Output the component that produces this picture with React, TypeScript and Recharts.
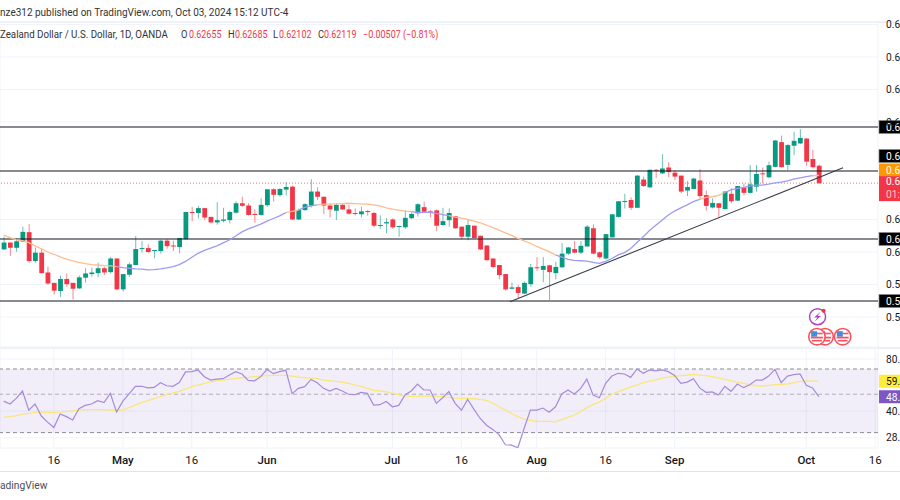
import React from "react";
import { ComposedChart, Bar, Line, XAxis, YAxis, CartesianGrid, ReferenceLine, ReferenceArea, ReferenceDot } from "recharts";

const opens = [.6008,.6029,.6013,.6032,.6061,.5972,.5998,.5937,.5905,.5880,.5917,.5905,.5888,.5921,.5932,.5935,.5950,.5938,.5980,.5885,.5930,.5960,.6010,.6012,.6005,.6003,.6035,.6020,.6015,.6039,.6123,.6120,.6135,.6108,.6091,.6096,.6098,.6121,.6150,.6143,.6117,.6114,.6144,.6193,.6175,.6192,.6201,.6100,
.6129,.6143,.6186,.6170,.6143,.6127,.6145,.6131,.6120,.6116,.6126,.6120,.6081,.6088,.6100,.6077,.6076,.6104,.6119,.6138,.6125,.6128,.6083,.6098,.6110,.6078,.6047,.6081,.6050,.6020,.5980,.5960,.5932,.5887,.5892,.5872,.5901,.5953,.5945,.5959,.5935,.5953,.5995,.6009,.5998,.6017,.6073,.5999,
.5980,.6045,.6108,.6155,.6160,.6136,.6223,.6199,.6253,.6242,.6260,.6244,.6235,.6189,.6194,.6220,.6175,.6137,.6150,.6132,.6179,.6158,.6199,.6182,.6201,.6242,.6230,.6262,.6338,.6268,.6327,.6334,.6349,.6286,.62655];
const highs = [.6047,.6029,.6042,.6078,.6086,.6014,.6011,.5955,.5905,.5927,.5934,.5905,.5928,.5950,.5952,.5967,.5955,.5985,.5980,.5932,.5968,.6049,.6034,.6024,.6006,.6037,.6039,.6035,.6043,.6123,.6139,.6142,.6136,.6108,.6153,.6136,.6127,.6156,.6170,.6150,.6131,.6165,.6193,.6196,.6196,.6215,.6204,.6134,
.6150,.6224,.6199,.6170,.6150,.6150,.6148,.6145,.6134,.6139,.6129,.6124,.6113,.6104,.6104,.6081,.6129,.6122,.6150,.6155,.6129,.6131,.6136,.6134,.6110,.6078,.6100,.6081,.6050,.6021,.5980,.5960,.5932,.5906,.5899,.5909,.5963,.5984,.5984,.5960,.5970,.6027,.6016,.6034,.6034,.6083,.6085,.6001,
.6055,.6116,.6157,.6179,.6168,.6237,.6232,.6253,.6255,.6301,.6276,.6252,.6235,.6218,.6228,.6255,.6189,.6165,.6150,.6186,.6196,.6203,.6211,.6268,.6268,.6260,.6278,.6345,.6358,.6332,.6370,.6378,.6350,.6314,.62685];
const lows = [.6006,.5988,.6001,.6031,.5967,.5967,.5934,.5899,.5869,.5862,.5893,.5854,.5887,.5906,.5924,.5922,.5929,.5934,.5883,.5878,.5924,.5960,.5998,.5998,.5981,.5995,.6010,.6003,.5996,.6039,.6095,.6103,.6098,.6088,.6084,.6091,.6088,.6118,.6139,.6112,.6090,.6112,.6139,.6155,.6170,.6174,.6098,.6098,
.6127,.6137,.6160,.6117,.6106,.6098,.6129,.6114,.6112,.6106,.6112,.6076,.6071,.6058,.6071,.6047,.6071,.6101,.6109,.6122,.6107,.6065,.6080,.6078,.6072,.6039,.6036,.6042,.6006,.5972,.5950,.5916,.5881,.5885,.5857,.5871,.5893,.5942,.5907,.5852,.5916,.5951,.5991,.5996,.5994,.6016,.5993,.5980,
.5977,.6045,.6106,.6134,.6129,.6136,.6200,.6197,.6227,.6240,.6230,.6221,.6180,.6172,.6193,.6160,.6127,.6134,.6106,.6131,.6150,.6157,.6175,.6180,.6186,.6211,.6227,.6260,.6260,.6252,.6298,.6332,.6265,.6257,.62102];
const closes = [.6029,.6013,.6033,.6062,.5972,.5998,.5935,.5903,.5881,.5917,.5901,.5887,.5922,.5934,.5937,.5950,.5937,.5980,.5885,.5932,.5962,.6009,.6012,.6000,.6006,.6035,.6018,.6018,.6043,.6123,.6121,.6135,.6106,.6091,.6098,.6100,.6123,.6150,.6142,.6114,.6115,.6145,.6193,.6176,.6194,.6200,.6100,.6129,
.6147,.6186,.6170,.6143,.6131,.6145,.6131,.6118,.6118,.6125,.6123,.6081,.6083,.6092,.6076,.6080,.6105,.6117,.6147,.6124,.6122,.6081,.6095,.6120,.6073,.6047,.6083,.6043,.6008,.5975,.5954,.5929,.5885,.5891,.5874,.5905,.5953,.5950,.5957,.5938,.5954,.5995,.6014,.5998,.6019,.6078,.5995,.5984,
.6055,.6116,.6156,.6157,.6136,.6235,.6203,.6253,.6251,.6257,.6246,.6232,.6186,.6200,.6226,.6172,.6142,.6151,.6136,.6186,.6156,.6203,.6182,.6208,.6240,.6240,.6267,.6343,.6261,.6329,.6342,.6351,.6278,.6261,.62119];
const priceMa = [.6052,.6044,.6037,.6035,.6029,.6019,.6010,.6000,.5993,.5985,.5978,.5973,.5968,.5964,.5961,.5960,.5958,.5957,.5955,.5952,.5950,.5948,.5947,.5945,.5946,.5948,.5951,.5955,.5961,.5971,.5984,.5996,.6005,.6012,.6019,.6028,.6037,.6049,.6062,.6071,.6078,.6086,.6095,.6103,.6111,.6121,.6125,.6129,
.6137,.6142,.6145,.6147,.6147,.6148,.6149,.6150,.6149,.6148,.6147,.6145,.6142,.6136,.6132,.6129,.6126,.6124,.6122,.6122,.6122,.6119,.6115,.6112,.6107,.6104,.6100,.6095,.6090,.6083,.6075,.6067,.6059,.6051,.6042,.6034,.6027,.6017,.6009,.6001,.5991,.5984,.5977,.5974,.5973,.5972,.5968,.5965,
.5971,.5980,.5991,.5998,.6011,.6029,.6047,.6066,.6082,.6098,.6114,.6126,.6136,.6145,.6155,.6162,.6168,.6170,.6174,.6183,.6191,.6196,.6198,.6203,.6206,.6206,.6209,.6213,.6215,.6219,.6224,.6228,.6232,.6235,.6236];
const maOrangeRuns = [[0,18],[45,47],[50,65],[71,88],[111,115],[129,130]];
const rsi = [45.6,43.9,47.3,52.2,40.4,43.9,37.4,34.5,32.1,38.4,37.1,35.5,41.3,43.1,43.9,45.9,44.7,50.6,39.4,45.6,50.2,55.6,55.6,54.4,54.8,58.3,56.0,55.6,58.5,67.3,67.6,69.1,63.2,60.4,61.2,61.5,64.6,67.6,65.5,60.1,59.8,63.2,69.7,65.8,67.6,68.8,50.4,54.1,
55.3,60.9,58.3,54.1,52.2,54.1,52.2,50.0,49.7,51.3,50.6,43.3,43.5,45.4,42.3,43.1,49.5,52.2,57.3,52.9,52.9,44.3,47.7,51.8,44.3,40.4,46.7,40.9,36.2,33.1,31.3,29.2,25.5,25.4,24.5,31.7,40.5,40.5,41.6,39.3,42.3,50.2,52.9,50.2,53.9,61.2,49.5,47.7,
57.8,63.7,66.1,65.5,62.6,70.0,66.1,69.1,68.2,69.1,67.6,64.3,57.8,58.8,61.5,54.4,51.3,51.6,49.5,55.6,52.0,57.3,54.6,56.8,60.4,60.4,63.7,69.7,58.3,63.7,64.9,65.5,56.3,54.4,48.4];
const rsiMa = [36.7,37.1,37.6,38.4,38.7,39.4,39.4,39.3,39.3,39.4,39.8,40.1,40.5,40.7,40.7,40.7,40.7,40.5,40.4,40.5,41.8,43.3,44.7,45.9,47.1,48.6,49.7,50.9,52.0,53.6,55.3,56.5,57.8,59.0,59.8,60.4,60.9,61.7,62.3,62.6,63.2,63.7,64.0,64.3,64.3,64.3,63.7,62.9,
62.3,62.0,61.5,60.4,59.8,59.3,58.8,57.8,56.5,55.6,54.1,52.7,52.2,51.6,50.6,49.7,48.8,48.6,48.6,48.8,48.8,48.8,48.4,47.9,47.5,47.3,47.3,47.1,46.7,46.1,44.5,42.3,40.5,38.7,37.1,35.9,35.3,34.8,34.8,34.8,34.6,35.7,36.7,37.9,39.6,41.8,43.5,45.0,
47.3,50.0,51.8,53.4,55.0,56.5,58.3,59.5,60.6,62.0,62.9,63.4,64.0,64.6,65.2,64.6,64.0,63.2,62.0,60.9,59.8,58.8,57.8,56.8,56.0,55.8,56.3,56.8,57.0,57.3,58.3,59.3,59.8,59.5,59.5];

const timeTicks = [8,19,30,42,62,73,85,96,107,128,139];
const timeLabels = ["16","May","16","Jun","Jul","16","Aug","16","Sep","Oct","16"];
const priceTicks = [.67,.66,.65,.64,.61,.60,.59,.58];
const rsiTicks = [28,40,80];
const levels = [.63846,.62492,.604,.58492];
const lastClose = .62119;
const trendStart = {x:80.75,y:.58471};
const trendEnd = {x:133.86,y:.62594};

const rows = closes.map((close,i)=>{
  const orange = maOrangeRuns.some(([a,b])=>i>=a&&i<=b);
  const inner = maOrangeRuns.some(([a,b])=>i>a&&i<b);
  return {i,open:opens[i],high:highs[i],low:lows[i],close,
    maOrange:orange?priceMa[i]:null,maBlue:inner?null:priceMa[i],rsi:rsi[i],rsiMa:rsiMa[i]};
});

const UP="#089981", DOWN="#f23645", FONT="Roboto,sans-serif", INK="#131722";
const X_DOMAIN:[number,number]=[-0.59,139.44];

function Candle(p:any){
  const {x,y,width,height,payload:d}=p;
  const k=height/(d.high-d.low||1);
  const top=y+(d.high-Math.max(d.open,d.close))*k;
  const bh=Math.max(1,Math.abs(d.open-d.close)*k);
  const col=d.close>=d.open?UP:DOWN;
  const cx=x+width/2;
  return <g>
    <line x1={cx} x2={cx} y1={y} y2={y+height} stroke={col} strokeWidth={1} strokeOpacity={0.6}/>
    <rect x={cx-2.4} y={top} width={4.8} height={bh} fill={col}/>
  </g>;
}
function Tag({viewBox,fill,text,sub,color="#fff",dy=0,h=13,border}:any){
  const yc=viewBox.y+dy;
  return <g>
    <rect x={879} y={yc-h/2} width={22} height={h} fill={fill} stroke={border||"none"} strokeWidth={border?0.7:0}/>
    <text x={886} y={sub?yc-4:yc+4} fontSize={10.2} fontFamily={FONT} fill={color}>{text}</text>
    {sub?<text x={886} y={yc+9} fontSize={10.2} fontFamily={FONT} fill="#ffc4ca">{sub}</text>:null}
  </g>;
}
function TimeTick({x,y,payload}:any){
  const label=timeLabels[timeTicks.indexOf(payload.value)];
  return <text x={x} y={y+8} textAnchor="middle" fontSize={11.5} fontFamily={FONT} fontWeight={label==="16"?400:500} fill={INK}>{label}</text>;
}
function Bolt({cx,cy}:any){
  return <g>
    <circle cx={cx} cy={cy} r={8} fill="#fff" stroke="#ab47bc" strokeWidth={1.5}/>
    <path d={`M${cx+3} ${cy-5}L${cx-3.5} ${cy+0.8}H${cx}L${cx-3} ${cy+5}L${cx+3.5} ${cy-0.8}H${cx}Z`} fill="#ab47bc"/>
    <circle cx={cx+6} cy={cy-6} r={2} fill="#f23645"/>
  </g>;
}
function Flag({cx,cy}:any){
  return <g>
    <circle cx={cx} cy={cy} r={8.2} fill="#fff" stroke="#f7525f" strokeWidth={1.6}/>
    <rect x={cx-5.8} y={cy-5.5} width={6} height={5.5} fill="#3f8fe0"/>
    <rect x={cx-6} y={cy} width={12} height={1.8} fill="#f7525f"/>
    <rect x={cx-5} y={cy+3.2} width={10} height={1.6} fill="#f7525f"/>
    <rect x={cx} y={cy-4} width={5.8} height={1.6} fill="#f7525f"/>
  </g>;
}
const absText=(left:number,top:number,color:string,sx:number):React.CSSProperties=>({position:"absolute",left,top,color,fontSize:11,lineHeight:"14px",fontFamily:FONT,whiteSpace:"nowrap",transform:`scaleX(${sx})`,transformOrigin:"left center"});

export default function App(){
  const gridCol="#f0f3fa";
  return <div style={{position:"absolute",left:0,top:0,width:900,height:500,overflow:"hidden",background:"#fff"}}>
    <div style={{position:"absolute",left:0,top:21,width:900,height:2,background:"#f0f0f8"}}/>
    <div style={{position:"absolute",left:0,top:347,width:900,height:2,background:"#eceef3"}}/>
    <div style={{position:"absolute",left:0,top:471,width:900,height:1,background:"#e0e3eb"}}/>
    <div style={{position:"absolute",left:0,top:0}}>
      <ComposedChart width={900} height={348} data={rows} margin={{top:22,right:0,bottom:1,left:0}}>
        <CartesianGrid stroke={gridCol} strokeWidth={1}/>
        <XAxis dataKey="i" type="number" domain={X_DOMAIN} ticks={timeTicks} interval={0} allowDataOverflow height={0} tick={false} axisLine={false} tickLine={false}/>
        <YAxis orientation="right" width={22} type="number" domain={[.570769,.670769]} ticks={priceTicks} interval={0} allowDataOverflow axisLine={false} tickLine={false} tickMargin={2} tickFormatter={(v:number)=>v.toFixed(5)} tick={{fontSize:10.2,fontFamily:FONT,fill:INK,textAnchor:"start"}}/>
        <ReferenceLine y={lastClose} stroke={DOWN} strokeDasharray="1 2" strokeWidth={1} strokeOpacity={0.7}/>
        {levels.map((v)=><ReferenceLine key={v} y={v} stroke="#131722" strokeWidth={1.2}/>)}
        <Bar dataKey={(d:any)=>[d.low,d.high]} barSize={5} shape={Candle} isAnimationActive={false}/>
        <Line dataKey="maBlue" stroke="#9d9af5" strokeWidth={1.3} dot={false} connectNulls={false} isAnimationActive={false}/>
        <Line dataKey="maOrange" stroke="#ffbd8e" strokeWidth={1.3} dot={false} connectNulls={false} isAnimationActive={false}/>
        <ReferenceLine segment={[trendStart,trendEnd]} stroke="#3a3e49" strokeWidth={1.1} ifOverflow="visible"/>
        <ReferenceDot x={129.8} y={.58009} r={8} shape={Bolt} ifOverflow="visible"/>
        <ReferenceDot x={131} y={.57394} r={8} shape={Flag} ifOverflow="visible"/>
        <ReferenceDot x={129.7} y={.57394} r={8} shape={Flag} ifOverflow="visible"/>
        <ReferenceDot x={133.8} y={.57394} r={8} shape={Flag} ifOverflow="visible"/>
        <ReferenceLine y={levels[0]} stroke="none" label={<Tag fill="#000" border="#888" text="0.63846"/>}/>
        <ReferenceLine y={levels[1]} stroke="none" label={<Tag fill="#000" border="#888" text="0.62492" dy={-15}/>}/>
        <ReferenceLine y={levels[1]} stroke="none" label={<Tag fill="#ff9800" text="0.62460" dy={-1}/>}/>
        <ReferenceLine y={lastClose} stroke="none" label={<Tag fill={DOWN} text="0.62119" sub="01:47:55" h={25} dy={5.5}/>}/>
        <ReferenceLine y={levels[2]} stroke="none" label={<Tag fill="#000" border="#888" text="0.60400"/>}/>
        <ReferenceLine y={levels[3]} stroke="none" label={<Tag fill="#000" border="#888" text="0.58492"/>}/>
      </ComposedChart>
    </div>
    <div style={{position:"absolute",left:0,top:348}}>
      <ComposedChart width={900} height={124} data={rows} margin={{top:0,right:0,bottom:0,left:0}}>
        <CartesianGrid stroke={gridCol} strokeWidth={1}/>
        <XAxis dataKey="i" type="number" domain={X_DOMAIN} ticks={timeTicks} interval={0} allowDataOverflow height={24} axisLine={false} tickLine={false} tickMargin={2} tick={<TimeTick/>}/>
        <YAxis orientation="right" width={22} type="number" scale="log" domain={[24.43,92.6]} ticks={rsiTicks} interval={0} allowDataOverflow axisLine={false} tickLine={false} tickMargin={2} tickFormatter={(v:number)=>v.toFixed(2)} tick={{fontSize:10.2,fontFamily:FONT,fill:INK,textAnchor:"start"}}/>
        <ReferenceArea y1={70} y2={30} fill="#7e57c2" fillOpacity={0.1} stroke="none"/>
        {[70,30].map(v=><ReferenceLine key={v} y={v} stroke="#787b86" strokeOpacity={0.85} strokeDasharray="4 3" strokeWidth={1}/>)}
        <ReferenceLine y={50} stroke="#787b86" strokeOpacity={0.55} strokeDasharray="4 3" strokeWidth={1}/>
        <Line dataKey="rsiMa" stroke="#fbe67a" strokeWidth={1.3} dot={false} isAnimationActive={false}/>
        <Line dataKey="rsi" stroke="#a58bdc" strokeWidth={1.2} dot={false} isAnimationActive={false}/>
        <ReferenceLine y={59.48} stroke="none" label={<Tag fill="#ffeb3b" color={INK} text="59.48"/>}/>
        <ReferenceLine y={48.37} stroke="none" label={<Tag fill="#7e57c2" text="48.37"/>}/>
      </ComposedChart>
    </div>
    <div style={absText(0,6,"#333",.908)}>nze312 published on TradingView.com, Oct 03, 2024 15:12 UTC-4</div>
    <div style={absText(0,28,"#333",.883)}>Zealand Dollar / U.S. Dollar, 1D, OANDA</div>
    <div style={absText(181,28,"#333",.85)}>O</div><div style={absText(189,28,DOWN,.81)}>0.62655</div>
    <div style={absText(228,28,"#333",.85)}>H</div><div style={absText(235,28,DOWN,.81)}>0.62685</div>
    <div style={absText(273,28,"#333",.85)}>L</div><div style={absText(279,28,DOWN,.81)}>0.62102</div>
    <div style={absText(318,28,"#333",.85)}>C</div><div style={absText(324,28,DOWN,.81)}>0.62119</div>
    <div style={absText(363,28,DOWN,.815)}>−0.00507 (−0.81%)</div>
    <div style={absText(0,479,"#4a4d57",.93)}>adingView</div>
  </div>;
}
